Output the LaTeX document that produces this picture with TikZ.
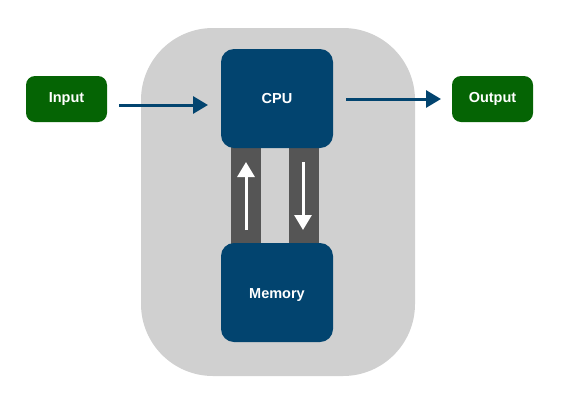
\documentclass[tikz,border=0pt]{standalone}
\usepackage{fontspec}
\setmainfont{Liberation Sans}
\usetikzlibrary{arrows.meta}
\definecolor{cpublue}{HTML}{02446F}
\definecolor{iogreen}{HTML}{056404}
\definecolor{regiongray}{HTML}{D0D0D0}
\definecolor{busgray}{HTML}{555555}
\begin{document}
\begin{tikzpicture}[x=1pt,y=-1pt,
  block/.style={draw=none,fill=cpublue,rounded corners=13pt,minimum width=112pt,minimum height=99pt,inner sep=0pt,text=white,font=\bfseries\fontsize{14.5}{16}\selectfont},
  iobox/.style={draw=none,fill=iogreen,rounded corners=9pt,minimum width=81pt,minimum height=46pt,inner sep=0pt,text=white,font=\bfseries\fontsize{14.5}{16}\selectfont},
  bus/.style={fill=busgray,draw=none},
  flow/.style={draw=cpublue,line width=3pt,-{Triangle[length=15pt,width=17pt]}},
  busarrow/.style={draw=white,line width=3pt,-{Triangle[length=15pt,width=17pt]}}
]
\useasboundingbox (0,0) rectangle (567,402);
\fill[regiongray,rounded corners=72pt] (141,28) rectangle (415,376);
\fill[bus] (231,140) rectangle (261,250);
\fill[bus] (289,140) rectangle (319,250);
\node[block] (cpu) at (277,98.5) {CPU};
\node[block,text depth=0pt] (mem) at (277,292.5) {\raisebox{-2pt}{Memory}};
\node[iobox] (in) at (66.5,99) {Input};
\node[iobox] (out) at (492.5,99) {Output};
\coordinate (inS) at (119,105);
\coordinate (inE) at (208,105);
\coordinate (outS) at (346,99);
\coordinate (outE) at (441,99);
\coordinate (upS) at (246,230);
\coordinate (upE) at (246,162);
\coordinate (dnS) at (303,162);
\coordinate (dnE) at (303,230);
\draw[flow] (inS) -- (inE);
\draw[flow] (outS) -- (outE);
\draw[busarrow] (upS) -- (upE);
\draw[busarrow] (dnS) -- (dnE);
\end{tikzpicture}
\end{document}
